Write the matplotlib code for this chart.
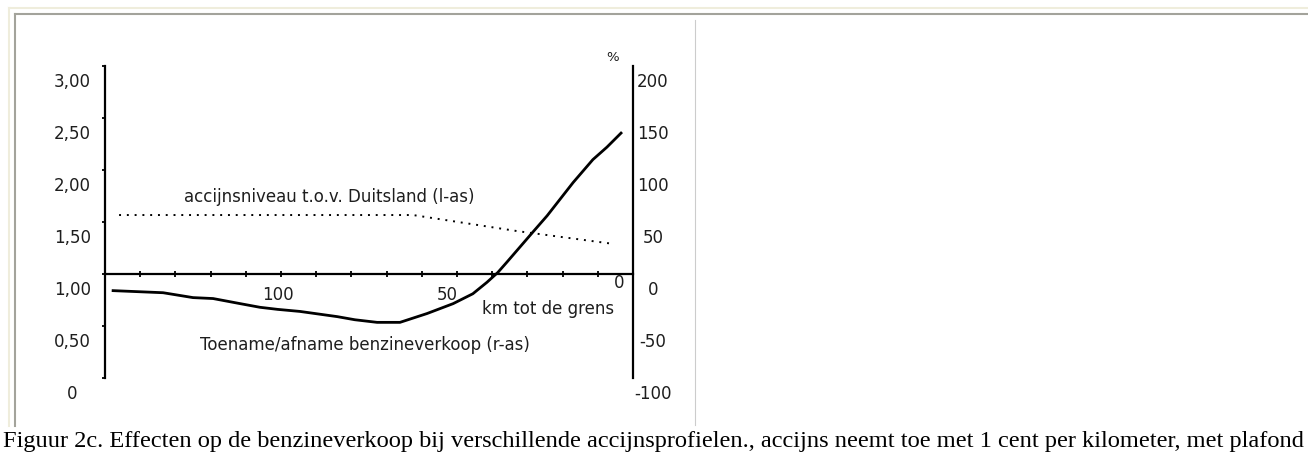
import matplotlib
matplotlib.use("Agg")
from matplotlib import pyplot as plt
from matplotlib.lines import Line2D
from matplotlib.transforms import ScaledTranslation

# benzineverkoop (r-as), % t.o.v. referentie, per km tot de grens
km_sales = [147.7, 133.5, 125, 119.3, 111.6, 106, 101, 94.6, 84, 79, 72.7, 66.2, 58.5,
            51.1, 45.5, 41.5, 38.4, 35.8, 32.1, 28.4, 24.4, 20.7, 17, 14.2, 11.4, 7.4, 3.4]
sales_pct = [-16, -18, -22.7, -23.6, -28.5, -32, -34, -36, -41, -44, -46.5, -46.5, -38,
             -28.5, -19, -8, 1.5, 11.5, 26, 40.5, 56, 72, 88, 99, 110, 122, 135.5]

# accijnsniveau t.o.v. Duitsland (l-as)
km_excise = [146, 62.5, 33, 5.7]
excise_level = [1.567, 1.567, 1.413, 1.29]

left_ticks = [0, 0.5, 1.0, 1.5, 2.0, 2.5, 3.0]
left_labels = ["0", "0,50", "1,00", "1,50", "2,00", "2,50", "3,00"]
right_ticks = [-100, -50, 0, 50, 100, 150, 200]
right_labels = ["-100", "-50", "0", "50", "100", "150", "200"]
x_ticks = list(range(150, -1, -10))
x_labels = ["100" if t == 100 else "50" if t == 50 else "0" if t == 0 else "" for t in x_ticks]

caption = ("Figuur 2c. Effecten op de benzineverkoop bij verschillende accijnsprofielen., "
           "accijns neemt toe met 1 cent per kilometer, met plafond")

W, H = 1308, 468
fig = plt.figure(figsize=(W / 100, H / 100), dpi=100)
plt.rcParams['font.family'] = ['DejaVu Sans']
fs = 12
tc = "#1e1e1e"


def px(x, y):
    return x / W, 1 - y / H


def shift(lbl, dx, dy):
    lbl.set_transform(lbl.get_transform() + ScaledTranslation(dx / 100, -dy / 100, fig.dpi_scale_trans))


# page frame
fig.add_artist(Line2D([9 / W, 1], [px(0, 8)[1]] * 2, color="#efeddc", lw=1.5))
fig.add_artist(Line2D([9 / W] * 2, [px(0, 8)[1], px(0, 426)[1]], color="#efeddc", lw=1.5))
fig.add_artist(Line2D([15 / W, 1], [px(0, 14)[1]] * 2, color="#a3a39b", lw=1.5))
fig.add_artist(Line2D([15 / W] * 2, [px(0, 14)[1], px(0, 426)[1]], color="#a3a39b", lw=1.5))
fig.add_artist(Line2D([695 / W] * 2, [px(0, 20)[1], px(0, 425)[1]], color="#cccccc", lw=0.8))

x0, y0 = px(105, 378)
ax = fig.add_axes([x0, y0, 528 / W, 312 / H])
ax.set_xlim(150, 0)
ax.set_ylim(0, 3)
ax2 = ax.twinx()
ax2.set_ylim(-100, 200)

for s in ["top", "right"]:
    ax.spines[s].set_visible(False)
ax.spines["left"].set_linewidth(1.6)
ax.spines["bottom"].set_position(("data", 1.0))
ax.spines["bottom"].set_linewidth(1.6)
for s in ["top", "left", "bottom"]:
    ax2.spines[s].set_visible(False)
ax2.spines["right"].set_linewidth(1.6)

ax.plot(km_excise, excise_level, color="black", lw=1.4, linestyle=(0, (1, 3)))
ax2.plot(km_sales, sales_pct, color="black", lw=2.0)

ax.set_yticks(left_ticks)
ax.set_yticklabels(left_labels, fontsize=fs, ha="center", color=tc)
ax.tick_params(axis="y", direction="out", length=2.5, width=1.3, pad=21.0)
for lbl in ax.get_yticklabels():
    shift(lbl, 0, 14)

ax2.set_yticks(right_ticks)
ax2.set_yticklabels(right_labels, fontsize=fs, ha="center", color=tc)
ax2.tick_params(axis="y", length=0, pad=14.4)
for lbl in ax2.get_yticklabels():
    shift(lbl, 0, 14)

ax.set_xticks(x_ticks)
ax.set_xticklabels(x_labels, fontsize=fs, color=tc)
ax.tick_params(axis="x", direction="inout", length=5, width=1.3, pad=6.0)
for lbl in ax.get_xticklabels():
    t = lbl.get_text()
    if t == "100":
        shift(lbl, -3, 0)
    elif t == "50":
        shift(lbl, -10, 0)
    elif t == "0":
        shift(lbl, -14, -12)

ax.text(86.4, 1.74, "accijnsniveau t.o.v. Duitsland (l-as)", fontsize=fs, ha="center", va="center", color=tc)
ax.text(76.1, 0.317, "Toename/afname benzineverkoop (r-as)", fontsize=fs, ha="center", va="center", color=tc)
ax.text(24.1, 0.663, "km tot de grens", fontsize=fs, ha="center", va="center", color=tc)
ax.text(5.7, 3.077, "%", fontsize=9.5, ha="center", va="center", clip_on=False, color=tc)

cap = fig.text(3 / W, px(0, 441)[1], caption, family="Liberation Serif", fontsize=16, ha="left", va="center")
fig.canvas.draw()
w = cap.get_window_extent().width
cap.set_fontsize(16 * 1302 / w)

fig.savefig("out.png", dpi=100)
